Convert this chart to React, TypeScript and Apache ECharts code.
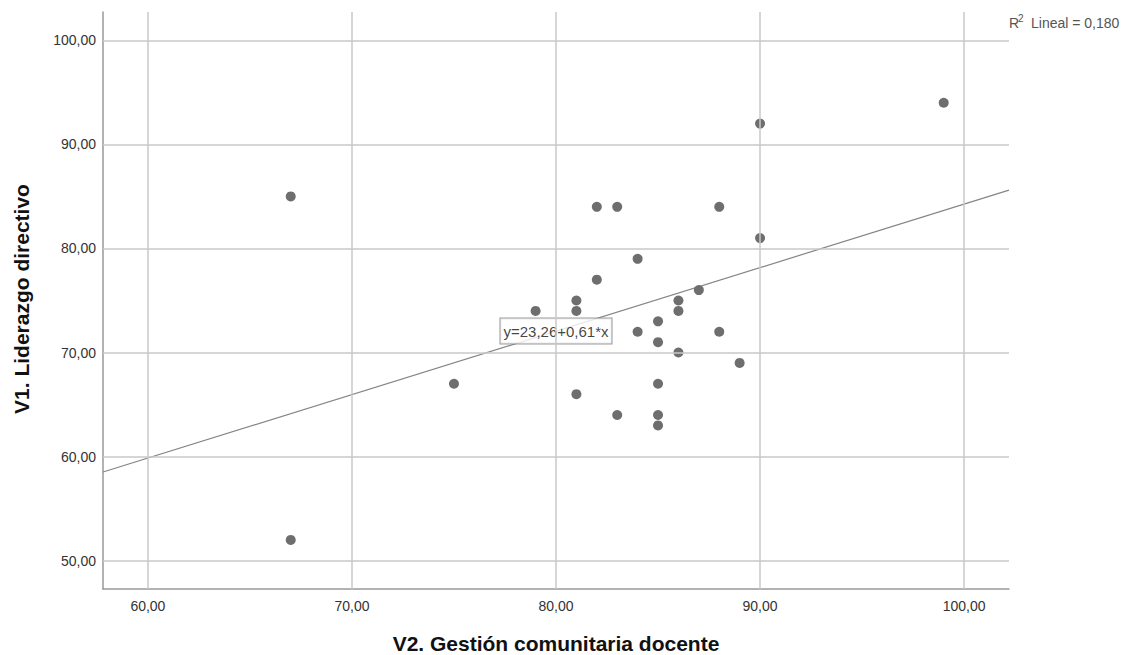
import React, { useEffect, useRef } from "react";
import * as echarts from "echarts";

// Data: (V2. Gestión comunitaria docente, V1. Liderazgo directivo)
const xValues = [67, 67, 75, 79, 81, 81, 81, 82, 82, 83, 83, 84, 84, 85, 85, 85, 85, 85, 86, 86, 86, 87, 88, 88, 89, 90, 90, 99];
const yValues = [85, 52, 67, 74, 75, 74, 66, 84, 77, 84, 64, 79, 72, 73, 71, 67, 64, 63, 75, 74, 70, 76, 84, 72, 69, 92, 81, 94];

const xTicks = [60, 70, 80, 90, 100];
const yTicks = [50, 60, 70, 80, 90, 100];

const intercept = 23.26;
const slope = 0.61;
const r2 = 0.18;

const xMin = 57.8;
const xMax = 102.2;
const yMin = 47.28;
const yMax = 102.72;

const fmt = (v: number, d = 2) => v.toFixed(d).replace(".", ",");

export default function App() {
  const ref = useRef<HTMLDivElement>(null);

  useEffect(() => {
    if (!ref.current) return;
    const chart = echarts.init(ref.current, null, { renderer: "svg" });
    const pts = xValues.map((x, i) => [x, yValues[i]]);
    const labelX = 80;
    const fitLine = [
      [xMin, intercept + slope * xMin],
      [xMax, intercept + slope * xMax],
    ];
    const font = "'Liberation Sans', Arial, sans-serif";

    chart.setOption({
      animation: false,
      backgroundColor: "#fff",
      textStyle: { fontFamily: font },
      grid: { left: 103, top: 12, right: 117, bottom: 66, containLabel: false },
      xAxis: {
        type: "value",
        min: xMin,
        max: xMax,
        axisLine: { show: true, lineStyle: { color: "#999", width: 1.5 } },
        axisTick: { show: false },
        splitLine: { show: false },
        axisLabel: {
          customValues: xTicks,
          formatter: (v: number) => fmt(v),
          color: "#333",
          fontSize: 14,
          margin: 10,
          fontFamily: font,
        },
      },
      yAxis: {
        type: "value",
        min: yMin,
        max: yMax,
        axisLine: { show: true, lineStyle: { color: "#999", width: 1.5 } },
        axisTick: { show: false },
        splitLine: { show: false },
        axisLabel: {
          customValues: yTicks,
          formatter: (v: number) => fmt(v),
          color: "#333",
          fontSize: 14,
          margin: 7,
          fontFamily: font,
        },
      },
      series: [
        {
          type: "line",
          data: [],
          z: 1,
          silent: true,
          markLine: {
            silent: true,
            symbol: ["none", "none"],
            label: { show: false },
            lineStyle: { color: "#c8c8c8", width: 1.5, type: "solid" },
            data: [
              ...xTicks.map((v) => ({ xAxis: v })),
              ...yTicks.map((v) => ({ yAxis: v })),
            ],
          },
        },
        {
          type: "line",
          data: fitLine,
          z: 2,
          silent: true,
          symbol: "none",
          lineStyle: { color: "#858585", width: 1.2 },
        },
        {
          type: "scatter",
          data: pts,
          z: 3,
          symbol: "circle",
          symbolSize: 10,
          itemStyle: { color: "#6e6e6e", opacity: 1 },
        },
        {
          type: "scatter",
          z: 4,
          data: [[labelX, intercept + slope * labelX]],
          symbolSize: 0,
          label: {
            show: true,
            position: "inside",
            formatter: `y=${fmt(intercept)}+${fmt(slope)}*x`,
            fontSize: 15,
            color: "#111",
            fontFamily: font,
            backgroundColor: "#fff",
            borderColor: "#858585",
            borderWidth: 1,
            padding: [5, 3, 5, 3],
          },
        },
      ],
      graphic: [
        {
          type: "text",
          left: 1009,
          top: 16,
          style: {
            text: "R",
            fontSize: 14,
            fill: "#555",
            fontFamily: font,
          },
        },
        {
          type: "text",
          left: 1018,
          top: 13,
          style: {
            text: "2",
            fontSize: 10,
            fill: "#555",
            fontFamily: font,
          },
        },
        {
          type: "text",
          left: 1031,
          top: 16,
          style: {
            text: `Lineal = ${fmt(r2, 3)}`,
            fontSize: 14,
            fill: "#555",
            fontFamily: font,
          },
        },
        {
          type: "text",
          x: 556,
          y: 643,
          style: {
            text: "V2. Gestión comunitaria docente",
            fontSize: 21,
            fontWeight: "bold",
            fill: "#111",
            fontFamily: font,
            align: "center",
            verticalAlign: "middle",
          },
        },
        {
          type: "text",
          x: 21,
          y: 299,
          rotation: Math.PI / 2,
          style: {
            text: "V1. Liderazgo directivo",
            fontSize: 21,
            fontWeight: "bold",
            fill: "#111",
            fontFamily: font,
            align: "center",
            verticalAlign: "middle",
          },
        },
      ],
    });
    return () => chart.dispose();
  }, []);

  return (
    <div
      ref={ref}
      style={{ position: "fixed", left: 0, top: 0, width: 1126, height: 655, background: "#fff" }}
    />
  );
}
